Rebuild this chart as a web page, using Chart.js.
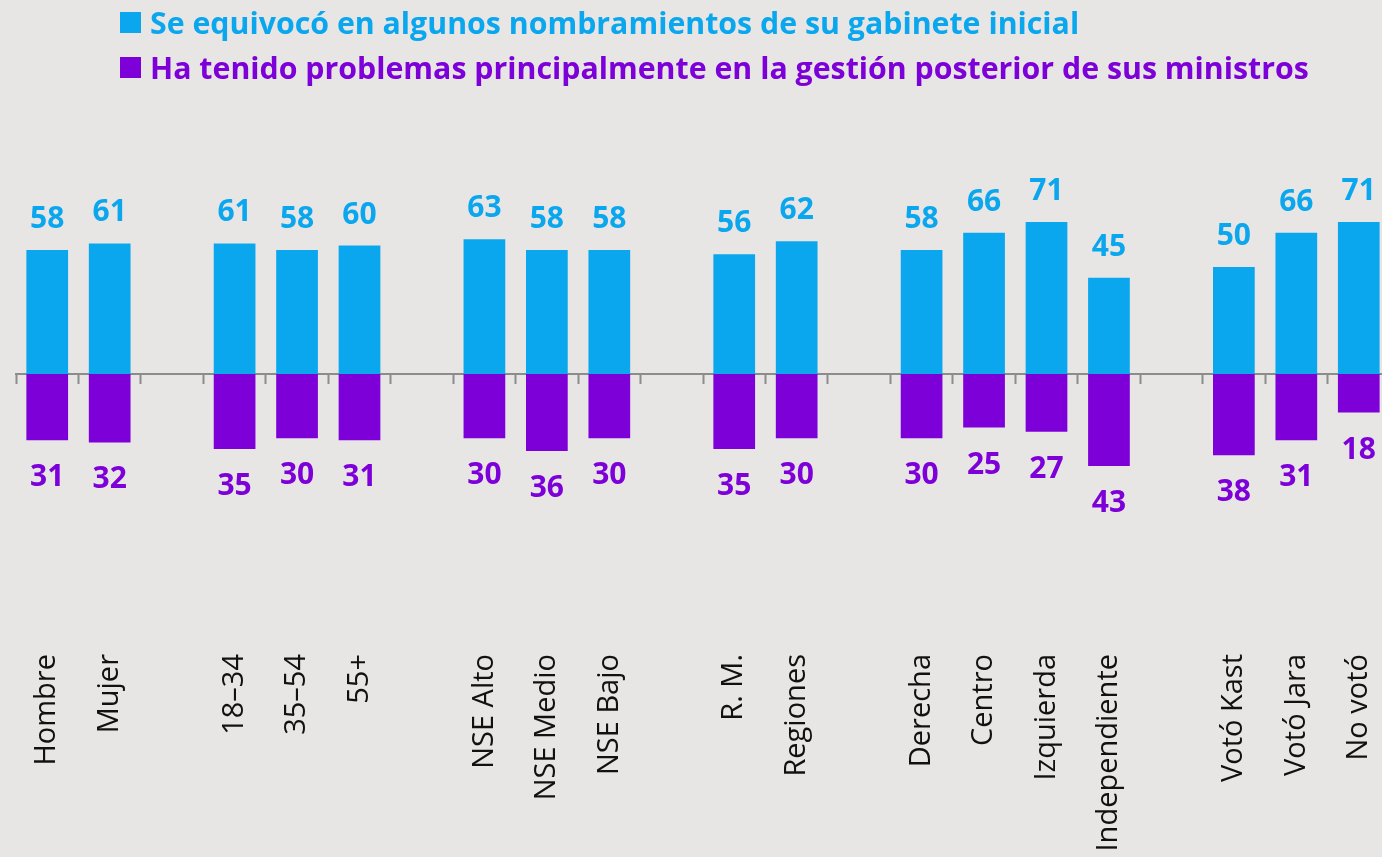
<!DOCTYPE html>
<html>
<head>
<meta charset="utf-8">
<script src="https://cdn.jsdelivr.net/npm/chart.js"></script>
<style>
  html, body { margin: 0; padding: 0; background: #e8e6e5; overflow: hidden; }
  #wrap { position: relative; width: 1390px; height: 857px; }
  #legend { position: absolute; left: 120px; top: 0; font-family: "Open Sans", sans-serif; font-weight: 700; font-size: 30.3px; }
  .item { display: flex; align-items: center; height: 45px; white-space: nowrap; }
  .box { width: 21px; height: 21px; margin-right: 9px; flex: none; }
</style>
</head>
<body>
<div id="wrap">
  <canvas id="chart"></canvas>
  <div id="legend"></div>
</div>
<script>
const categories = ['Hombre', 'Mujer', '', '18–34', '35–54', '55+', '', 'NSE Alto', 'NSE Medio', 'NSE Bajo', '',
  'R. M.', 'Regiones', '', 'Derecha', 'Centro', 'Izquierda', 'Independiente', '', 'Votó Kast', 'Votó Jara', 'No votó'];
const seriesNames = ['Se equivocó en algunos nombramientos de su gabinete inicial',
  'Ha tenido problemas principalmente en la gestión posterior de sus ministros'];
const nombramientos = [58, 61, null, 61, 58, 60, null, 63, 58, 58, null, 56, 62, null, 58, 66, 71, 45, null, 50, 66, 71];
const gestion = [31, 32, null, 35, 30, 31, null, 30, 36, 30, null, 35, 30, null, 30, 25, 27, 43, null, 38, 31, 18];

const BLUE = '#0ba7ee';
const PURPLE = '#7e00d9';

// etiquetas de valor encima / debajo de cada barra
const valueLabels = {
  id: 'valueLabels',
  afterDatasetsDraw(chart) {
    const ctx = chart.ctx;
    ctx.save();
    ctx.font = '700 30px "Open Sans"';
    ctx.textAlign = 'center';
    ctx.textBaseline = 'alphabetic';
    chart.data.datasets.forEach((ds, i) => {
      const meta = chart.getDatasetMeta(i);
      ctx.fillStyle = ds.backgroundColor;
      meta.data.forEach((bar, j) => {
        const v = ds.data[j];
        if (v === null) return;
        if (v >= 0) {
          ctx.fillText(String(v), bar.x, bar.y - 22);
        } else {
          ctx.fillText(String(-v), bar.x, bar.y + 46);
        }
      });
    });
    ctx.restore();
  }
};

const chart = new Chart(document.getElementById('chart').getContext('2d'), {
  type: 'bar',
  data: {
    labels: categories,
    datasets: [
      { label: seriesNames[0], data: nombramientos, backgroundColor: BLUE },
      { label: seriesNames[1], data: gestion.map(v => v === null ? null : -v), backgroundColor: PURPLE }
    ]
  },
  options: {
    responsive: true,
    maintainAspectRatio: false,
    animation: false,
    layout: { padding: { left: 16, right: 0, top: 160, bottom: 269 } },
    datasets: { bar: { barPercentage: 0.668, categoryPercentage: 1 } },
    plugins: { legend: { display: false }, tooltip: { enabled: false } },
    scales: {
      x: {
        stacked: true,
        position: { y: 0 },
        grid: { drawOnChartArea: false, drawTicks: true, tickLength: 9, tickWidth: 2, color: '#8c8c8c' },
        border: { display: true, color: '#8c8c8c', width: 2 },
        ticks: {
          autoSkip: false, minRotation: 90, maxRotation: 90, padding: 271,
          color: '#111', font: { family: 'Open Sans', size: 29, weight: 400 }
        },
        // el padding grande de las etiquetas no debe estrechar el área
        afterFit(scale) {
          scale.paddingLeft = 0;
          scale.paddingRight = 0;
        }
      },
      y: { stacked: true, display: false, min: -100, max: 100 }
    }
  },
  plugins: [valueLabels]
});

// leyenda en HTML
const legend = document.getElementById('legend');
chart.data.datasets.forEach(ds => {
  const item = document.createElement('div');
  item.className = 'item';
  item.style.color = ds.backgroundColor;
  const box = document.createElement('span');
  box.className = 'box';
  box.style.background = ds.backgroundColor;
  item.appendChild(box);
  item.appendChild(document.createTextNode(ds.label));
  legend.appendChild(item);
});
</script>
</body>
</html>
